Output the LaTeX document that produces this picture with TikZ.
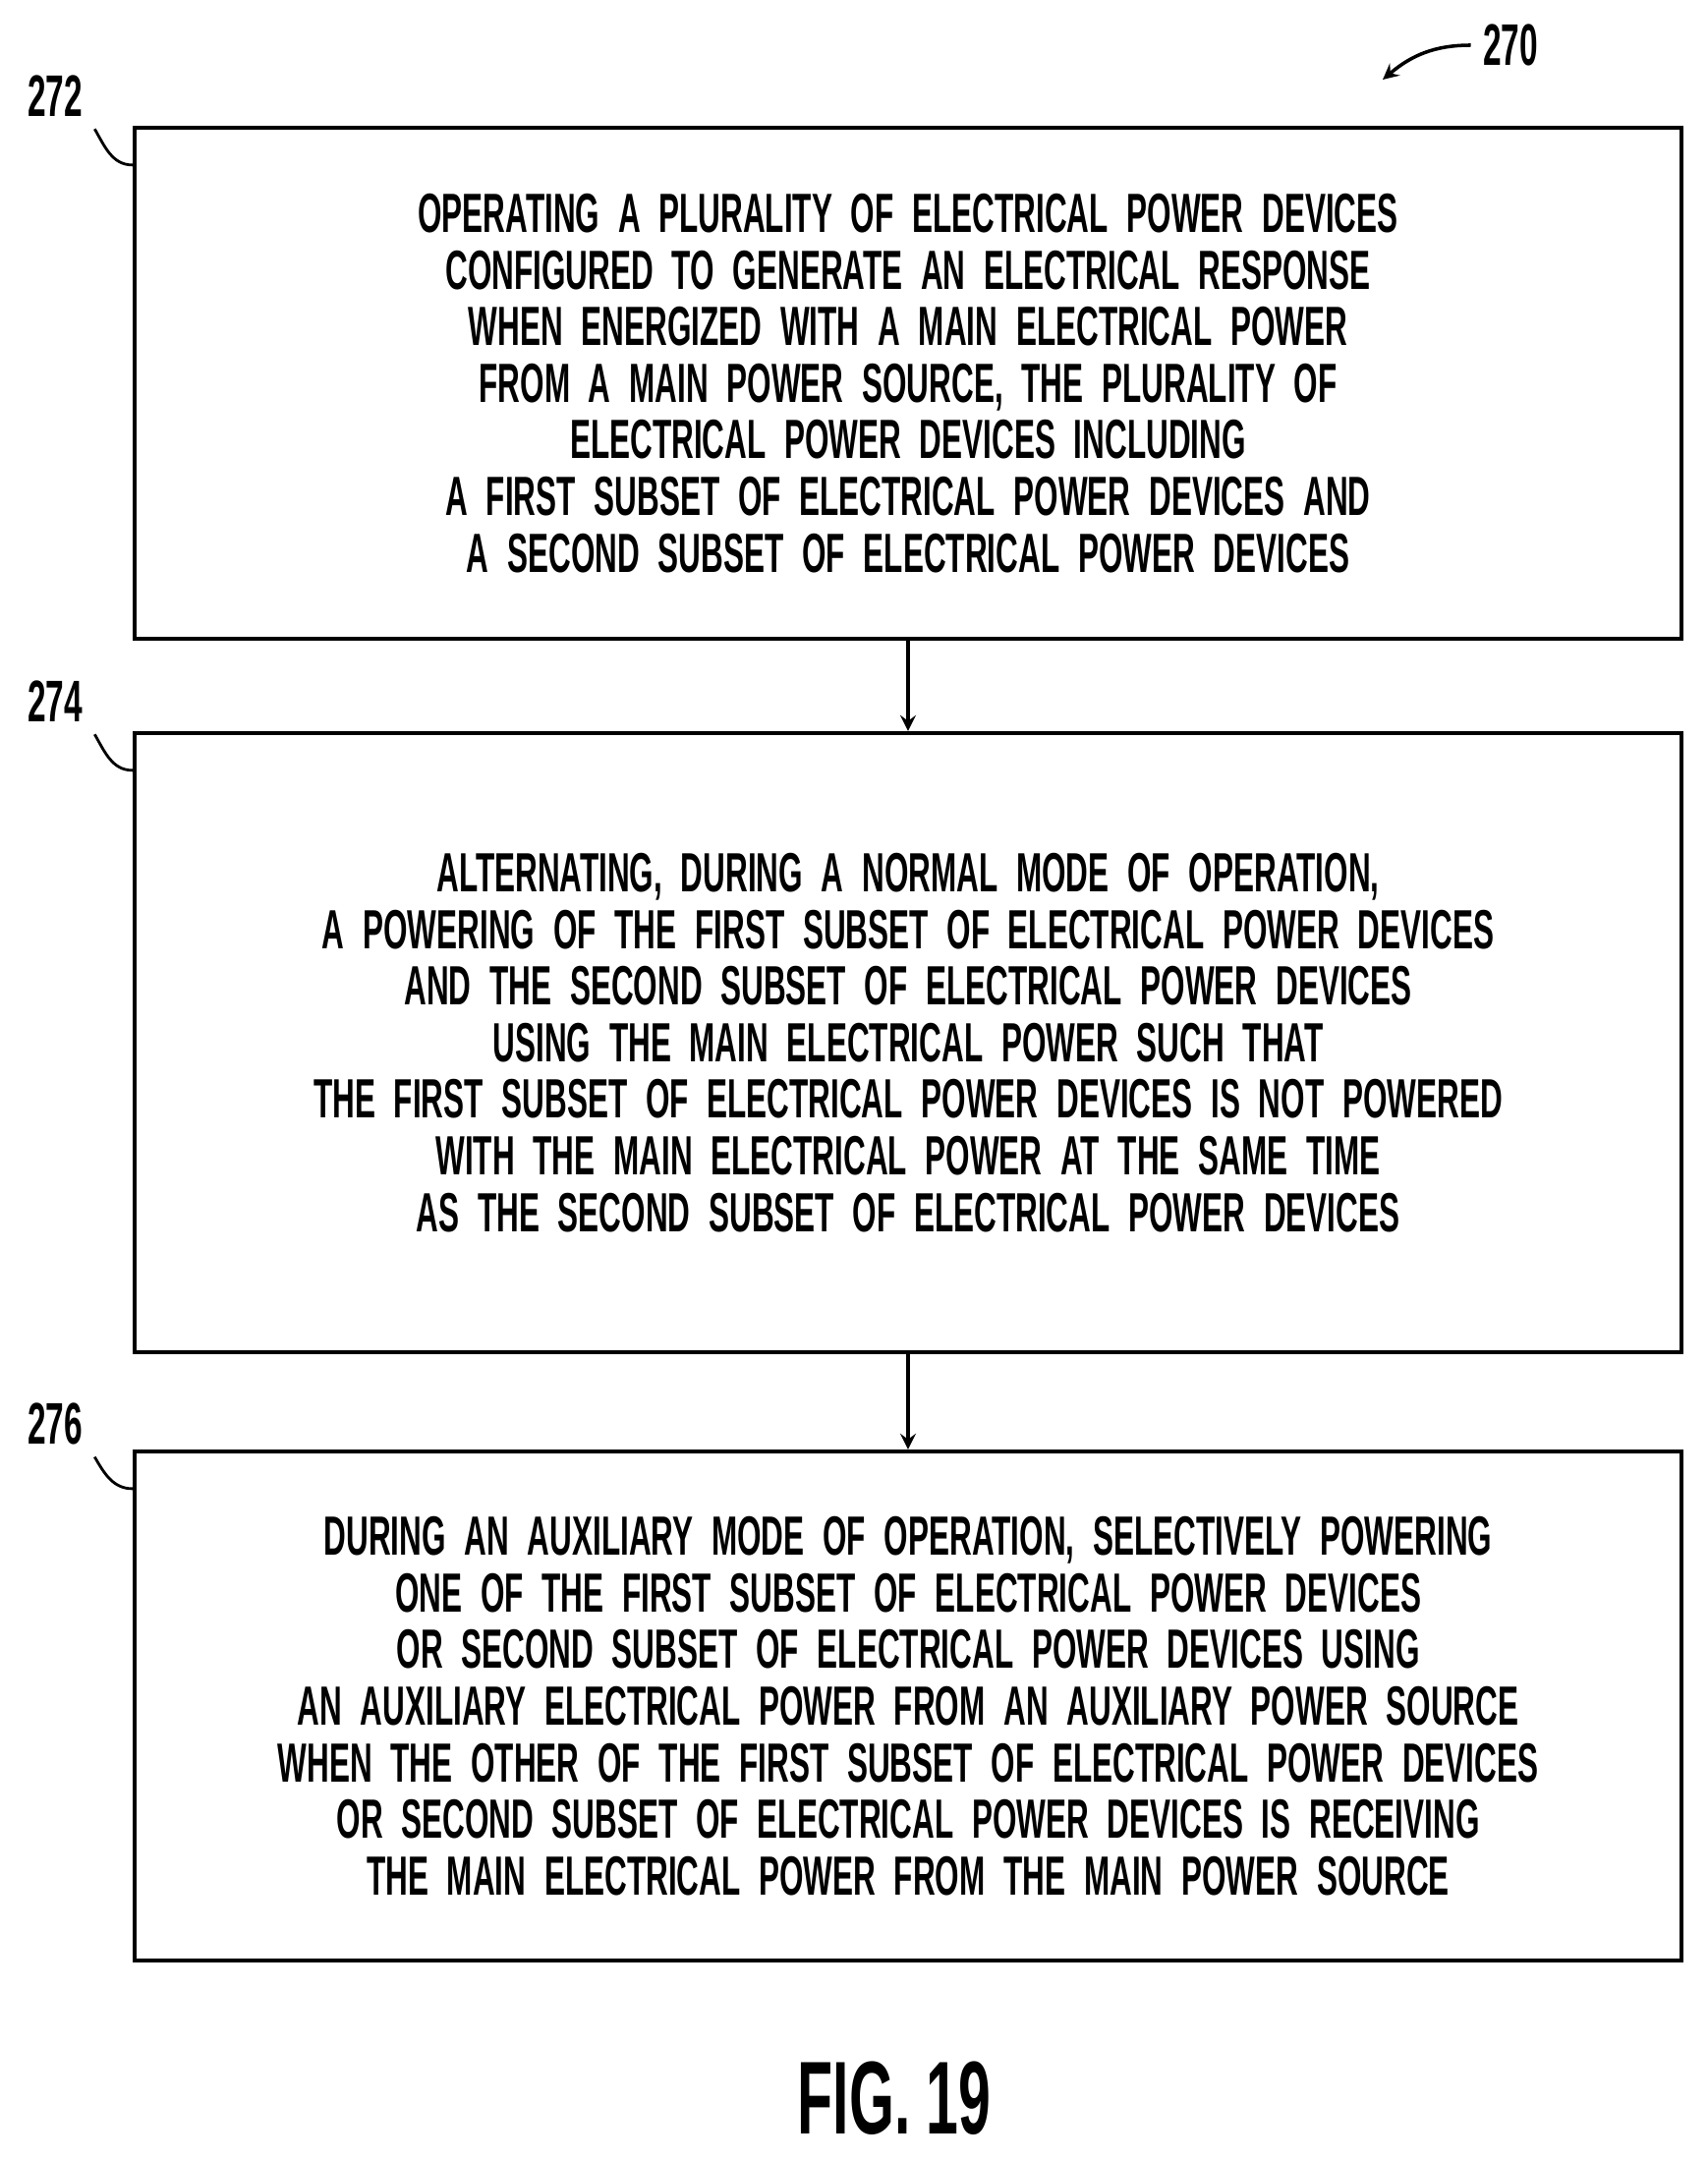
\documentclass[tikz,border=0pt]{standalone}
\usepackage{fontspec}
\setmainfont{Liberation Sans}[FakeStretch=0.56]
\usetikzlibrary{positioning}
\tikzset{
	stepbox/.style={draw=black, line width=1.2pt, minimum width=15.74cm, text width=15cm, align=center,
		font=\fontsize{16pt}{16.4pt}\selectfont\bfseries, inner sep=0pt},
	reflabel/.style={font=\fontsize{17pt}{17pt}\selectfont\bfseries},
	flow/.style={->, >=stealth, line width=1pt}
}
\begin{document}
\begin{tikzpicture}
	\useasboundingbox (0,0) rectangle (17.37,-21.98);

	\node[stepbox, minimum height=5.2cm] (op) at (9.24,-3.90)
		{OPERATING A PLURALITY OF ELECTRICAL POWER DEVICES\\
		CONFIGURED TO GENERATE AN ELECTRICAL RESPONSE\\
		WHEN ENERGIZED WITH A MAIN ELECTRICAL POWER\\
		FROM A MAIN POWER SOURCE, THE PLURALITY OF\\
		ELECTRICAL POWER DEVICES INCLUDING\\
		A FIRST SUBSET OF ELECTRICAL POWER DEVICES AND\\
		A SECOND SUBSET OF ELECTRICAL POWER DEVICES};
	\node[stepbox, minimum height=6.3cm] (alt) at (9.24,-10.61)
		{ALTERNATING, DURING A NORMAL MODE OF OPERATION,\\
		A POWERING OF THE FIRST SUBSET OF ELECTRICAL POWER DEVICES\\
		AND THE SECOND SUBSET OF ELECTRICAL POWER DEVICES\\
		USING THE MAIN ELECTRICAL POWER SUCH THAT\\
		THE FIRST SUBSET OF ELECTRICAL POWER DEVICES IS NOT POWERED\\
		WITH THE MAIN ELECTRICAL POWER AT THE SAME TIME\\
		AS THE SECOND SUBSET OF ELECTRICAL POWER DEVICES};
	\node[stepbox, minimum height=5.18cm] (aux) at (9.24,-17.36)
		{DURING AN AUXILIARY MODE OF OPERATION, SELECTIVELY POWERING\\
		ONE OF THE FIRST SUBSET OF ELECTRICAL POWER DEVICES\\
		OR SECOND SUBSET OF ELECTRICAL POWER DEVICES USING\\
		AN AUXILIARY ELECTRICAL POWER FROM AN AUXILIARY POWER SOURCE\\
		WHEN THE OTHER OF THE FIRST SUBSET OF ELECTRICAL POWER DEVICES\\
		OR SECOND SUBSET OF ELECTRICAL POWER DEVICES IS RECEIVING\\
		THE MAIN ELECTRICAL POWER FROM THE MAIN POWER SOURCE};

	\draw[flow] (op) -- (alt);
	\draw[flow] (alt) -- (aux);

	% reference numerals
	\node[reflabel] (n272) at (0.56,-0.98) {272};
	\node[reflabel] (n274) at (0.56,-7.14) {274};
	\node[reflabel] (n276) at (0.56,-14.49) {276};
	\draw[line width=0.8pt] (n272.south east) to[out=-60,in=180] ([yshift=-0.4cm]op.north west);
	\draw[line width=0.8pt] (n274.south east) to[out=-60,in=180] ([yshift=-0.4cm]alt.north west);
	\draw[line width=0.8pt] (n276.south east) to[out=-60,in=180] ([yshift=-0.4cm]aux.north west);

	\node[reflabel] (n270) at (15.37,-0.46) {270};
	\draw[flow] (n270.west) to[out=180,in=40] (14.07,-0.81);

	\node[font=\fontsize{30pt}{30pt}\selectfont\bfseries] (fig) at (9.10,-21.35) {FIG. 19};
\end{tikzpicture}
\end{document}
